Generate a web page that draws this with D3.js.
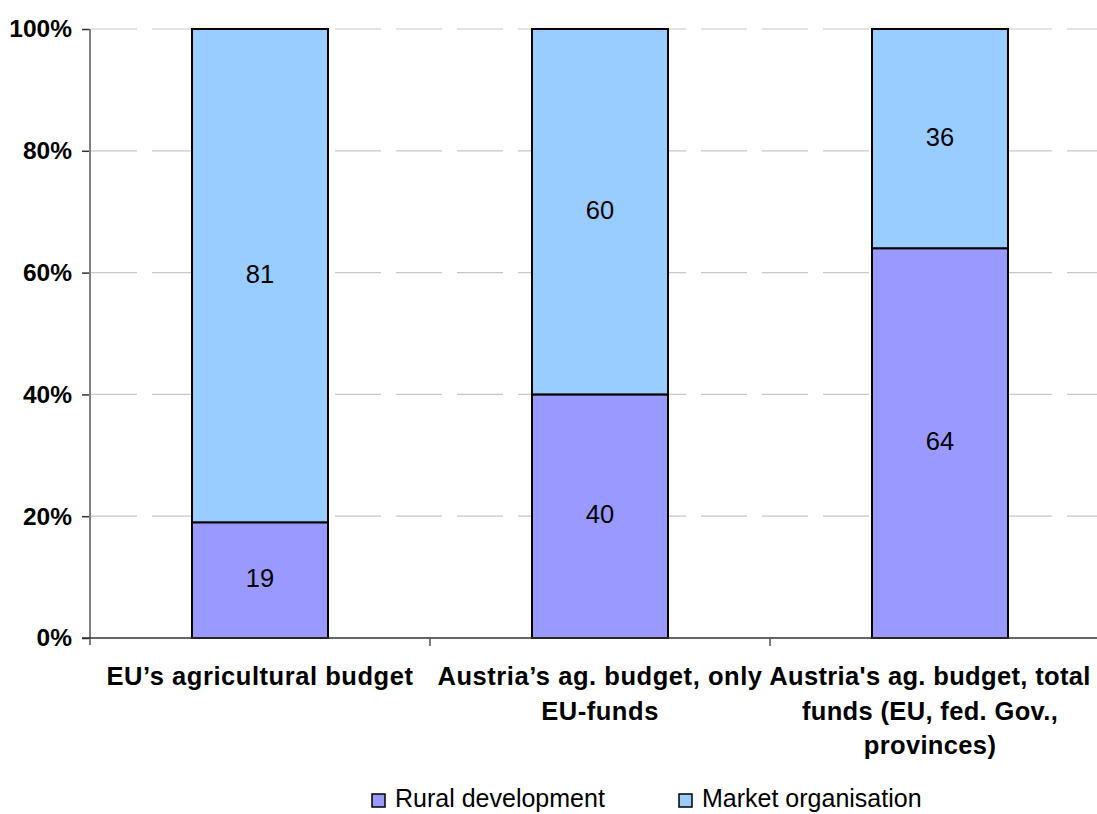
<!DOCTYPE html>
<html>
<head>
<meta charset="utf-8">
<script src="https://cdn.jsdelivr.net/npm/d3@7"></script>
<style>
  html, body { margin: 0; padding: 0; background: #fff; }
  svg { display: block; }
  text { font-family: Arial, "Liberation Sans", sans-serif; fill: #000; }
</style>
</head>
<body>
<svg id="chart" width="1097" height="814"></svg>
<script>
const categories = ["EU’s agricultural budget", "Austria’s ag. budget, only EU-funds", "Austria's ag. budget, total funds (EU, fed. Gov., provinces)"];
const categoryLines = [
  ["EU’s agricultural budget"],
  ["Austria’s ag. budget, only", "EU-funds"],
  ["Austria's ag. budget, total", "funds (EU, fed. Gov.,", "provinces)"]
];
const seriesNames = ["Rural development", "Market organisation"];
const ruralDevelopment = [19, 40, 64];
const marketOrganisation = [81, 60, 36];
const yTicks = [0, 20, 40, 60, 80, 100];
const yTickLabels = ["0%", "20%", "40%", "60%", "80%", "100%"];
const colors = ["#9999ff", "#99ccff"];

const svg = d3.select("#chart");
const mLeft = 90, mRight = 1110, mTop = 29, mBottom = 638;

const x = d3.scaleBand().domain(categories).range([mLeft, mRight]).paddingInner(0.6).paddingOuter(0.3);
const y = d3.scaleLinear().domain([0, 100]).range([mBottom, mTop]);

// gridlines
svg.append("g").selectAll("line").data(yTicks.filter(d => d > 0)).join("line")
  .attr("x1", mLeft + 1).attr("x2", mRight)
  .attr("y1", d => y(d)).attr("y2", d => y(d))
  .attr("stroke", "#c8c8c8").attr("stroke-width", 1.2)
  .attr("stroke-dasharray", "46 15");

// stacked data
const rows = categories.map((c, i) => ({cat: c, rural: ruralDevelopment[i], market: marketOrganisation[i]}));
const stack = d3.stack().keys(["rural", "market"])(rows);

const g = svg.append("g");
stack.forEach((layer, li) => {
  g.append("g").selectAll("rect").data(layer).join("rect")
    .attr("x", d => x(d.data.cat))
    .attr("y", d => y(d[1]))
    .attr("width", x.bandwidth())
    .attr("height", d => y(d[0]) - y(d[1]))
    .attr("fill", colors[li])
    .attr("stroke", "#000")
    .attr("stroke-width", 2);
  g.append("g").selectAll("text").data(layer).join("text")
    .attr("x", d => x(d.data.cat) + x.bandwidth() / 2)
    .attr("y", d => (y(d[0]) + y(d[1])) / 2 + 7)
    .attr("text-anchor", "middle")
    .attr("font-size", 25.5)
    .text(d => d[1] - d[0]);
});

// y axis
const yAxis = d3.axisLeft(y).tickValues(yTicks).tickFormat((d, i) => yTickLabels[i]).tickSize(8).tickPadding(10);
const ya = svg.append("g").attr("transform", `translate(${mLeft},0)`).call(yAxis);
ya.select(".domain").remove();
ya.selectAll(".tick line").attr("stroke", "#333").attr("stroke-width", 1.5);
ya.selectAll(".tick text").attr("font-size", 24.5).attr("font-weight", "bold")
  .attr("font-family", "Arial, 'Liberation Sans', sans-serif").attr("fill", "#000");
svg.append("line").attr("x1", mLeft).attr("x2", mLeft).attr("y1", mTop).attr("y2", mBottom + 7)
  .attr("stroke", "#808080").attr("stroke-width", 2);

// x axis
svg.append("line").attr("x1", mLeft - 8).attr("x2", 1097).attr("y1", mBottom).attr("y2", mBottom)
  .attr("stroke", "#333").attr("stroke-width", 1.6);
const boundaries = categories.slice(1).map(c => x(c) - x.step() * x.paddingInner() / 2);
svg.append("g").selectAll("line").data(boundaries).join("line")
  .attr("x1", d => d).attr("x2", d => d).attr("y1", mBottom).attr("y2", mBottom + 8)
  .attr("stroke", "#555").attr("stroke-width", 1.5);

// category labels (last one nudged left so it stays inside the page)
const labelShift = [0, 0, -10];
const labelSpacing = ["0.55px", "0.55px", "0.35px"];
const xl = svg.append("g");
categories.forEach((c, i) => {
  const cx = x(c) + x.bandwidth() / 2 + labelShift[i];
  const t = xl.append("text")
    .attr("x", cx)
    .attr("y", 685)
    .attr("text-anchor", "middle")
    .attr("font-size", 25.5)
    .attr("letter-spacing", labelSpacing[i])
    .attr("font-weight", "bold");
  categoryLines[i].forEach((ln, j) => {
    t.append("tspan").attr("x", cx).attr("y", 685 + j * 34.5).text(ln);
  });
});

// legend
const legendX = [372, 679];
const lg = svg.append("g");
seriesNames.forEach((s, i) => {
  lg.append("rect").attr("x", legendX[i]).attr("y", 794).attr("width", 13).attr("height", 13)
    .attr("fill", colors[i]).attr("stroke", "#000").attr("stroke-width", 1.5);
  lg.append("text").attr("x", legendX[i] + 23).attr("y", 807).attr("font-size", 25).text(s);
});
</script>
</body>
</html>
